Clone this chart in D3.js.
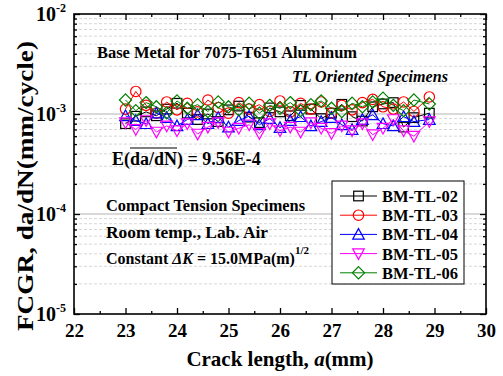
<!DOCTYPE html>
<html>
<head>
<meta charset="utf-8">
<script src="https://cdn.jsdelivr.net/npm/d3@7/dist/d3.min.js"></script>
<style>
  html, body { margin: 0; padding: 0; background: #fff; }
  svg { display: block; font-family: "Liberation Serif", "Times New Roman", serif; font-weight: bold; }
</style>
</head>
<body>
<svg id="chart" width="503" height="376"></svg>
<script>
// Crack length (mm) at each measurement
const crackLength = [23.0, 23.2, 23.4, 23.6, 23.8, 24.0, 24.2, 24.4, 24.6, 24.8,
                     25.0, 25.2, 25.4, 25.6, 25.8, 26.0, 26.2, 26.4, 26.6, 26.8,
                     27.0, 27.2, 27.4, 27.6, 27.8, 28.0, 28.2, 28.4, 28.6, 28.9];

// da/dN in units of 1e-3 mm/cycle
const bmTL02 = [0.80, 0.95, 1.05, 0.96, 1.12, 1.28, 1.02, 0.88, 1.00, 0.84,
                1.10, 1.20, 0.93, 0.82, 1.15, 1.05, 0.96, 1.22, 1.12, 0.90,
                1.02, 1.25, 0.94, 0.85, 1.18, 1.26, 1.30, 0.74, 0.92, 1.02];
const bmTL03 = [1.12, 1.68, 1.22, 1.02, 1.32, 1.10, 1.28, 1.05, 1.38, 1.16,
                1.02, 1.30, 1.12, 1.24, 1.06, 1.35, 1.05, 1.28, 1.12, 1.32,
                1.02, 1.22, 1.10, 1.30, 1.40, 1.18, 1.12, 1.32, 1.06, 1.48];
const bmTL04 = [0.96, 0.86, 0.80, 1.02, 0.92, 0.76, 0.88, 0.98, 0.80, 0.92,
                0.74, 0.86, 0.95, 0.78, 0.90, 0.73, 0.86, 0.94, 0.76, 0.84,
                0.92, 0.78, 0.70, 0.88, 0.98, 0.80, 0.76, 0.94, 0.84, 0.88];
const bmTL05 = [0.82, 0.70, 0.86, 0.66, 0.76, 0.68, 0.80, 0.63, 0.74, 0.82,
                0.66, 0.72, 0.78, 0.64, 0.80, 0.68, 0.74, 0.66, 0.82, 0.72,
                0.64, 0.76, 0.68, 0.80, 0.62, 0.72, 0.88, 0.68, 0.60, 0.84];
const bmTL06 = [1.38, 1.08, 1.30, 1.18, 1.03, 1.35, 1.14, 1.24, 1.06, 1.32,
                1.18, 1.10, 1.28, 1.02, 1.22, 1.14, 1.30, 1.08, 1.24, 1.35,
                1.14, 1.06, 1.28, 1.18, 1.32, 1.44, 1.22, 1.08, 1.38, 1.26];

const seriesNames = ["BM-TL-02", "BM-TL-03", "BM-TL-04", "BM-TL-05", "BM-TL-06"];
const seriesValues = [bmTL02, bmTL03, bmTL04, bmTL05, bmTL06];
const seriesColors = ["#000000", "#ff0000", "#0000ff", "#ff00ff", "#008000"];
const seriesSymbols = ["square", "circle", "triangleUp", "triangleDown", "diamond"];

const xTicks = [22, 23, 24, 25, 26, 27, 28, 29, 30];
const yDecades = [-5, -4, -3, -2];

const W = 503, H = 376;
const m = { left: 74, right: 17, top: 14, bottom: 62 };
const svg = d3.select("#chart");

const x = d3.scaleLinear().domain([22, 30]).range([m.left, W - m.right]);
const y = d3.scaleLog().domain([1e-5, 1e-2]).range([H - m.bottom, m.top]);

// minor values for the log axis
const minorVals = [];
yDecades.slice(0, 3).forEach(e => {
  for (let k = 2; k <= 9; k++) minorVals.push(k * Math.pow(10, e));
});

// horizontal grid
const grid = svg.append("g");
grid.selectAll("line.minor").data(minorVals).join("line")
  .attr("x1", m.left).attr("x2", W - m.right)
  .attr("y1", d => y(d)).attr("y2", d => y(d))
  .attr("stroke", "#d2d2d2").attr("stroke-width", 0.9)
  .attr("stroke-dasharray", "3,2");
grid.selectAll("line.major").data([1e-4, 1e-3]).join("line")
  .attr("x1", m.left).attr("x2", W - m.right)
  .attr("y1", d => y(d)).attr("y2", d => y(d))
  .attr("stroke", "#b4b4b4").attr("stroke-width", 1.2);

// axes with inward ticks on all four sides
const xMinor = d3.range(22.5, 30, 1);
function tickStyle(g, gen) { g.call(gen); g.select(".domain").remove(); g.selectAll("line").attr("stroke", "#000").attr("stroke-width", 1.3); }

const bottom = svg.append("g").attr("transform", `translate(0,${H - m.bottom})`);
bottom.call(d3.axisBottom(x).tickValues(xTicks).tickSize(-6).tickFormat(d3.format("d")).tickPadding(10));
bottom.select(".domain").remove();
bottom.selectAll("line").attr("stroke", "#000").attr("stroke-width", 1.3);
bottom.selectAll("text").attr("font-size", 19).attr("font-family", "Liberation Serif").attr("font-weight", "bold").attr("fill", "#000");
svg.append("g").attr("transform", `translate(0,${H - m.bottom})`)
  .call(g => tickStyle(g, d3.axisBottom(x).tickValues(xMinor).tickSize(-3).tickFormat("")));

svg.append("g").attr("transform", `translate(0,${m.top})`)
  .call(g => tickStyle(g, d3.axisTop(x).tickValues(xTicks).tickSize(-6).tickFormat("")));
svg.append("g").attr("transform", `translate(0,${m.top})`)
  .call(g => tickStyle(g, d3.axisTop(x).tickValues(xMinor).tickSize(-3).tickFormat("")));

const yMajor = yDecades.map(e => Math.pow(10, e));
svg.append("g").attr("transform", `translate(${m.left},0)`)
  .call(g => tickStyle(g, d3.axisLeft(y).tickValues(yMajor).tickSize(-6).tickFormat("")));
svg.append("g").attr("transform", `translate(${m.left},0)`)
  .call(g => tickStyle(g, d3.axisLeft(y).tickValues(minorVals).tickSize(-3).tickFormat("")));
svg.append("g").attr("transform", `translate(${W - m.right},0)`)
  .call(g => tickStyle(g, d3.axisRight(y).tickValues(yMajor).tickSize(-6).tickFormat("")));
svg.append("g").attr("transform", `translate(${W - m.right},0)`)
  .call(g => tickStyle(g, d3.axisRight(y).tickValues(minorVals).tickSize(-3).tickFormat("")));

// y tick labels as 10^n
const yl = svg.append("g");
yDecades.forEach(e => {
  const t = yl.append("text")
    .attr("x", m.left - 8).attr("y", y(Math.pow(10, e)) + 7)
    .attr("text-anchor", "end").attr("font-size", 20).attr("fill", "#000");
  t.append("tspan").text("10");
  t.append("tspan").attr("dy", -9).attr("font-size", 12).text("-" + Math.abs(e));
});

// frame
svg.append("rect")
  .attr("x", m.left).attr("y", m.top)
  .attr("width", W - m.left - m.right).attr("height", H - m.top - m.bottom)
  .attr("fill", "none").attr("stroke", "#000").attr("stroke-width", 1.6);

// symbols
function drawSymbol(g, type, cx, cy, color) {
  const s = 4.8;
  let el;
  if (type === "square") {
    el = g.append("rect").attr("x", cx - s).attr("y", cy - s).attr("width", 2 * s).attr("height", 2 * s);
  } else if (type === "circle") {
    el = g.append("circle").attr("cx", cx).attr("cy", cy).attr("r", s + 0.4);
  } else if (type === "triangleUp") {
    el = g.append("path").attr("d", `M${cx},${cy - s - 1}L${cx + s + 1},${cy + s}L${cx - s - 1},${cy + s}Z`);
  } else if (type === "triangleDown") {
    el = g.append("path").attr("d", `M${cx},${cy + s + 1}L${cx + s + 1},${cy - s}L${cx - s - 1},${cy - s}Z`);
  } else {
    el = g.append("path").attr("d", `M${cx},${cy - s - 1.3}L${cx + s + 1.3},${cy}L${cx},${cy + s + 1.3}L${cx - s - 1.3},${cy}Z`);
  }
  el.attr("fill", "none").attr("stroke", color).attr("stroke-width", 1.2);
}

// data series
const line = d3.line().x(d => x(d[0])).y(d => y(d[1]));
seriesValues.forEach((vals, i) => {
  const pts = crackLength.map((c, j) => [c, vals[j] * 1e-3]);
  const g = svg.append("g");
  g.append("path").attr("d", line(pts)).attr("fill", "none")
    .attr("stroke", seriesColors[i]).attr("stroke-width", 1);
  pts.forEach(p => drawSymbol(g, seriesSymbols[i], x(p[0]), y(p[1]), seriesColors[i]));
});

// annotations
function fitText(sel, len) { return sel.attr("textLength", len).attr("lengthAdjust", "spacingAndGlyphs"); }
const ann = svg.append("g").attr("fill", "#000");
fitText(ann.append("text").attr("x", 97).attr("y", 58).attr("font-size", 16).text("Base Metal for 7075-T651 Aluminum"), 260);
fitText(ann.append("text").attr("x", 292).attr("y", 82).attr("font-size", 16).attr("font-style", "italic").text("TL Oriented Specimens"), 156);

const eText = ann.append("text").attr("x", 112).attr("y", 165).attr("font-size", 18);
eText.append("tspan").text("E(");
const daSpan = eText.append("tspan").text("da/dN");
eText.append("tspan").text(") = 9.56E-4");
// overline above da/dN
{
  const bb = daSpan.node().getComputedTextLength();
  const startX = 112 + eText.node().getSubStringLength(0, 2);
  ann.append("line").attr("x1", startX).attr("x2", startX + bb)
    .attr("y1", 148).attr("y2", 148).attr("stroke", "#000").attr("stroke-width", 1.2);
}

fitText(ann.append("text").attr("x", 106).attr("y", 211).attr("font-size", 16).text("Compact Tension Specimens"), 199);
fitText(ann.append("text").attr("x", 106).attr("y", 238).attr("font-size", 16).text("Room temp., Lab. Air"), 162);
const kText = ann.append("text").attr("x", 106).attr("y", 264).attr("font-size", 16);
kText.append("tspan").text("Constant ");
kText.append("tspan").attr("font-style", "italic").text("ΔK");
kText.append("tspan").text(" = 15.0MPa(m)");
kText.append("tspan").attr("dy", -10).attr("font-size", 11).text("1/2");

// legend
const lg = svg.append("g");
lg.append("rect").attr("x", 332).attr("y", 181).attr("width", 132).attr("height", 103)
  .attr("fill", "#fff").attr("stroke", "#000").attr("stroke-width", 1);
seriesNames.forEach((name, i) => {
  const cy = 196 + i * 19.2;
  lg.append("line").attr("x1", 340).attr("x2", 377).attr("y1", cy).attr("y2", cy)
    .attr("stroke", seriesColors[i]).attr("stroke-width", 1);
  drawSymbol(lg, seriesSymbols[i], 358.5, cy, seriesColors[i]);
  fitText(lg.append("text").attr("x", 382).attr("y", cy + 6).attr("font-size", 17).attr("fill", "#000").text(name), 76);
});

// axis titles
svg.append("text").attr("x", x(26)).attr("y", 366).attr("text-anchor", "middle")
  .attr("font-size", 21).attr("fill", "#000")
  .call(t => { t.append("tspan").text("Crack length, "); t.append("tspan").attr("font-style", "italic").text("a"); t.append("tspan").text("(mm)"); });
fitText(svg.append("text").attr("transform", `translate(33,186) rotate(-90)`)
  .attr("text-anchor", "middle").attr("font-size", 23).attr("fill", "#000")
  .text("FCGR, da/dN(mm/cycle)"), 290);
</script>
</body>
</html>
